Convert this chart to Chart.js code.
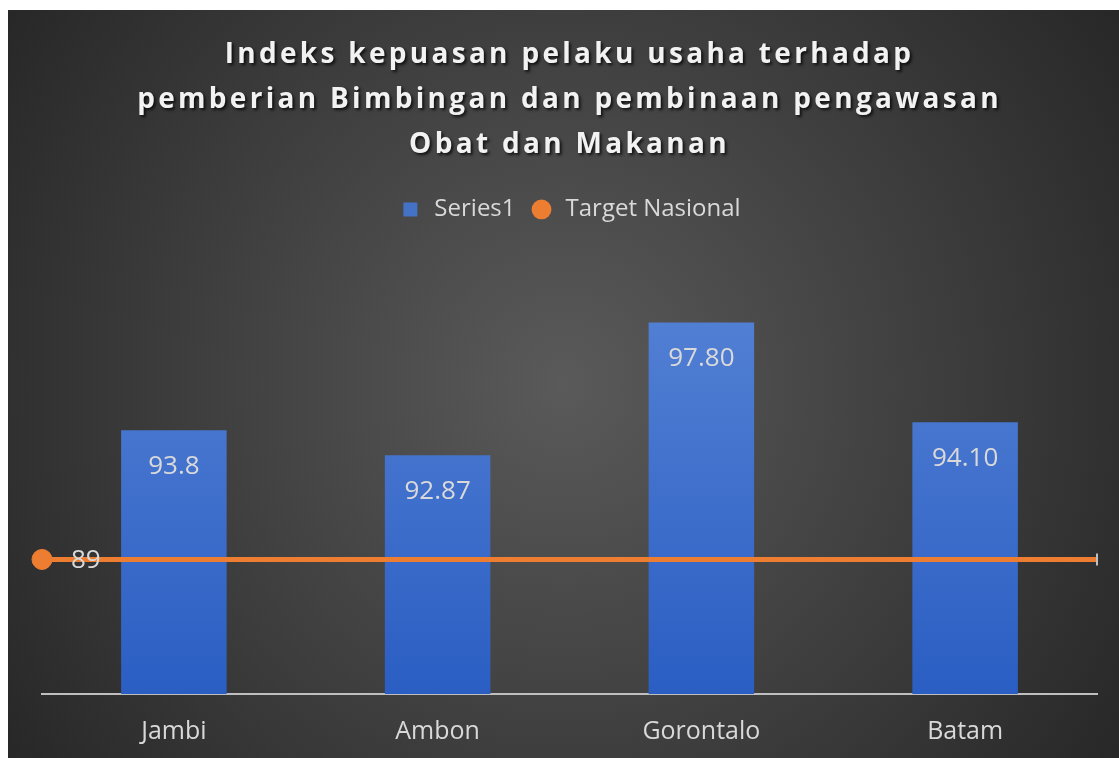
<!DOCTYPE html>
<html>
<head>
<meta charset="utf-8">
<script src="https://cdn.jsdelivr.net/npm/chart.js@4"></script>
<style>
  html, body { margin: 0; background: #fff; }
  #wrap { position: absolute; left: 8px; top: 10px; width: 1111px; height: 748px; }
</style>
</head>
<body>
<div id="wrap"><canvas id="chart"></canvas></div>
<script>
// chart data
const categories = ["Jambi", "Ambon", "Gorontalo", "Batam"];
const seriesValues = [93.8, 92.87, 97.8, 94.1];
const seriesLabels = ["93.8", "92.87", "97.80", "94.10"];
const targetValues = [89, 89, 89, 89];
const targetLabel = "89";
const titleLines = [
    "Indeks kepuasan pelaku usaha terhadap",
    "pemberian Bimbingan dan pembinaan pengawasan",
    "Obat dan Makanan",
];

const textColor = "#d9d9d9";
const fontFamily = "'Open Sans', 'Noto Sans', sans-serif";

// dark radial background
const backgroundPlugin = {
    id: "bg",
    beforeDraw(chart) {
        const {ctx, width, height} = chart;
        const g = ctx.createRadialGradient(width / 2, height / 2, 0, width / 2, height / 2, width * 0.62);
        g.addColorStop(0, "#5a5a5a");
        g.addColorStop(1, "#262626");
        ctx.save();
        ctx.fillStyle = g;
        ctx.fillRect(0, 0, width, height);
        ctx.restore();
    },
};

// spaced-out, shadowed title and extra gap under the legend
const spacingPlugin = {
    id: "spacing",
    afterInit(chart) {
        const title = chart.titleBlock;
        const drawTitle = title.draw.bind(title);
        title.draw = function (area) {
            const c = this.ctx;
            c.save();
            c.letterSpacing = "3.3px";
            c.shadowColor = "rgba(0,0,0,0.75)";
            c.shadowOffsetX = 2;
            c.shadowOffsetY = 2;
            c.shadowBlur = 3;
            drawTitle(area);
            c.restore();
        };
        const legend = chart.legend;
        const fit = legend.fit.bind(legend);
        legend.fit = function () {
            fit();
            this.height += 32;
        };
    },
};

// value labels
const labelPlugin = {
    id: "valueLabels",
    afterDatasetsDraw(chart) {
        const ctx = chart.ctx;
        ctx.save();
        ctx.fillStyle = textColor;
        ctx.font = "26px " + fontFamily;
        ctx.textBaseline = "middle";
        ctx.textAlign = "center";
        chart.getDatasetMeta(0).data.forEach((bar, i) => {
            ctx.fillText(seriesLabels[i], bar.x, bar.y + 36);
        });
        const first = chart.getDatasetMeta(1).data[0];
        ctx.textAlign = "left";
        ctx.fillText(targetLabel, first.x + 29, first.y + 1);
        ctx.restore();
    },
};

function barGradient(context) {
    const area = context.chart.chartArea;
    if (!area) return "#4472c4";
    const g = context.chart.ctx.createLinearGradient(0, area.top, 0, area.bottom);
    g.addColorStop(0, "#5784d6");
    g.addColorStop(1, "#2b5ec3");
    return g;
}

const canvas = document.getElementById("chart");

new Chart(canvas, {
    data: {
        labels: categories,
        datasets: [
            {
                type: "bar",
                label: "Series1",
                data: seriesValues,
                backgroundColor: barGradient,
                grouped: false,
                categoryPercentage: 0.8,
                barPercentage: 0.5,
                order: 1,
            },
            {
                type: "line",
                label: "Target Nasional",
                data: targetValues,
                xAxisID: "x2",
                borderColor: "#ed7d31",
                borderWidth: 5,
                pointStyle: ["circle", "circle", "circle", "line"],
                pointRotation: [0, 0, 0, 90],
                pointRadius: [10, 0, 0, 6],
                pointBackgroundColor: "#ed7d31",
                pointBorderColor: ["#ed7d31", "#ed7d31", "#ed7d31", "#bfbfbf"],
                pointBorderWidth: [1, 1, 1, 2],
                order: 0,
            },
        ],
    },
    options: {
        responsive: true,
        maintainAspectRatio: false,
        animation: false,
        layout: {
            padding: {left: 34, right: 22, top: 0, bottom: 0},
        },
        scales: {
            x: {
                grid: {display: false, drawTicks: false},
                border: {display: true, color: "#bfbfbf", width: 2},
                ticks: {color: textColor, font: {size: 25, family: fontFamily}, padding: 23},
                afterFit(scale) {
                    scale.height = 64;
                },
            },
            x2: {
                type: "category",
                labels: categories,
                offset: false,
                display: false,
            },
            y: {
                min: 84,
                max: 100,
                display: false,
            },
        },
        plugins: {
            title: {
                display: true,
                text: titleLines,
                color: "#f2f2f2",
                font: {size: 28, weight: "bold", family: fontFamily, lineHeight: 1.6},
                padding: {top: 23, bottom: 16},
            },
            legend: {
                position: "top",
                labels: {
                    color: textColor,
                    font: {size: 24, family: fontFamily},
                    usePointStyle: true,
                    boxHeight: 14,
                    padding: 14,
                    generateLabels: () => [
                        {text: "Series1", fillStyle: "#4472c4", strokeStyle: "#4472c4", lineWidth: 0, pointStyle: "rect", fontColor: textColor, datasetIndex: 0},
                        {text: "Target Nasional", fillStyle: "#ed7d31", strokeStyle: "#ed7d31", lineWidth: 0, pointStyle: "circle", fontColor: textColor, datasetIndex: 1},
                    ],
                },
            },
            tooltip: {enabled: false},
        },
    },
    plugins: [backgroundPlugin, spacingPlugin, labelPlugin],
});
</script>
</body>
</html>
